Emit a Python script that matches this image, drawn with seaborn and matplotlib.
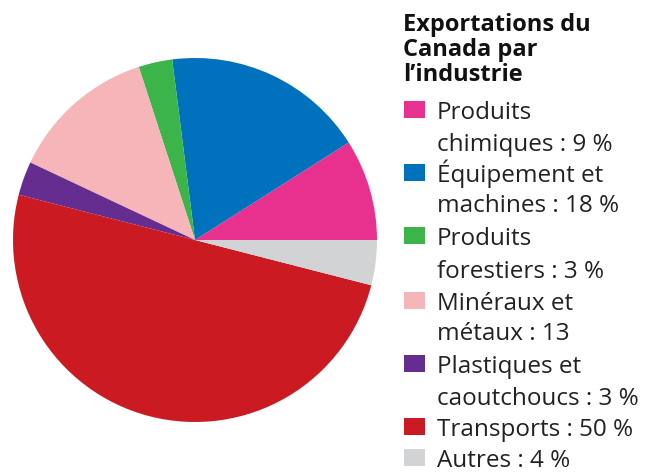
import matplotlib
matplotlib.use("Agg")
import matplotlib.pyplot as plt
import seaborn as sns
from matplotlib.patches import Rectangle

# donnees
industries = ["Produits chimiques", "Équipement et machines", "Produits forestiers",
              "Minéraux et métaux", "Plastiques et caoutchoucs", "Transports", "Autres"]
parts = [9, 18, 3, 13, 3, 50, 4]
couleurs = ["#E8318F", "#0071BC", "#3BB54A", "#F6B6B9", "#662D91", "#CC1A22", "#D1D3D4"]
legende = [["Produits", "chimiques : 9 %"],
           ["Équipement et", "machines : 18 %"],
           ["Produits", "forestiers : 3 %"],
           ["Minéraux et", "métaux : 13"],
           ["Plastiques et", "caoutchoucs : 3 %"],
           ["Transports : 50 %"],
           ["Autres : 4 %"]]
titre = ["Exportations du", "Canada par", "l’industrie"]

sns.set_theme(style="white")
plt.rcParams['font.family'] = ['Open Sans', 'DejaVu Sans']

W, H = 670, 474
fig = plt.figure(figsize=(W / 100, H / 100), dpi=100)

# camembert
cx, cy, r = 195, 240, 182
ax = fig.add_axes([(cx - r) / W, (H - cy - r) / H, 2 * r / W, 2 * r / H])
ax.pie(parts, colors=couleurs, startangle=0, counterclock=True, radius=1,
       wedgeprops={"linewidth": 0})
ax.set_xlim(-1, 1)
ax.set_ylim(-1, 1)
ax.set_aspect("equal")
ax.axis("off")

# titre de la legende
for i, ligne in enumerate(titre):
    fig.text(403 / W, 1 - (31 + 25 * i) / H, ligne, fontsize=17, fontweight="bold",
             color="#111111", va="baseline", ha="left")

# legende
bases = [[119, 151], [182, 212], [245, 278], [310, 340], [373, 405], [436], [467]]
for lignes, col, ys in zip(legende, couleurs, bases):
    fig.patches.append(Rectangle((404 / W, 1 - (ys[0] - 1) / H), 21 / W, 17 / H,
                                 transform=fig.transFigure, facecolor=col,
                                 edgecolor="none"))
    for txt, y in zip(lignes, ys):
        fig.text(437 / W, 1 - y / H, txt, fontsize=17.5, color="#222222",
                 va="baseline", ha="left")

fig.savefig("out.png", dpi=100)
